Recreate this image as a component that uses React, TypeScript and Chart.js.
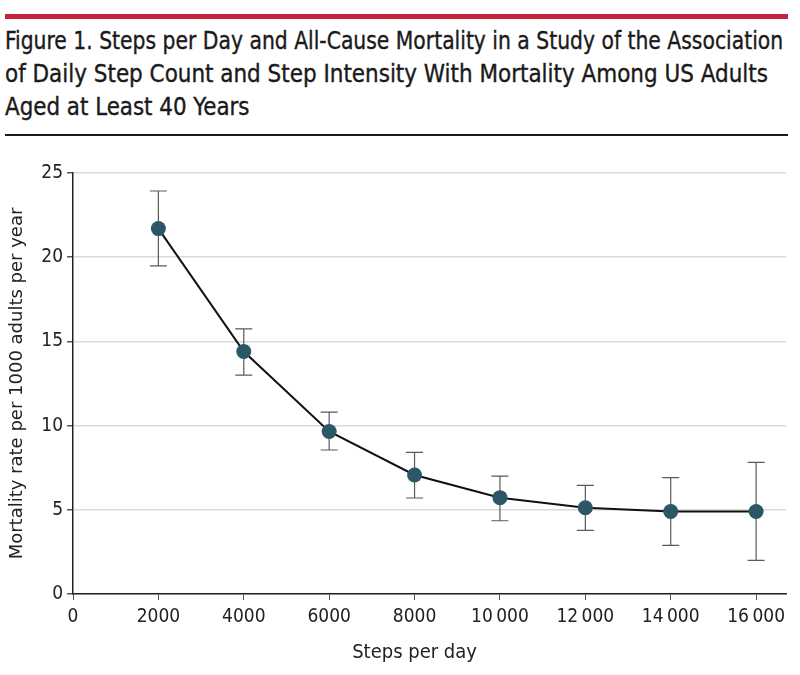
import React, { useEffect, useRef } from "react";
import { Chart, registerables } from "chart.js";

Chart.register(...registerables);

const steps = [2000, 4000, 6000, 8000, 10000, 12000, 14000, 16000];
const mortality = [21.7, 14.4, 9.65, 7.07, 5.72, 5.12, 4.9, 4.9];
const ciLower = [19.48, 13.0, 8.55, 5.7, 4.35, 3.78, 2.89, 2.0];
const ciUpper = [23.93, 15.74, 10.8, 8.41, 7.0, 6.45, 6.91, 7.82];
const xTicks = [0, 2000, 4000, 6000, 8000, 10000, 12000, 14000, 16000];
const yTicks = [0, 5, 10, 15, 20, 25];

const titleLines = [
  "Figure 1. Steps per Day and All-Cause Mortality in a Study of the Association",
  "of Daily Step Count and Step Intensity With Mortality Among US Adults",
  "Aged at Least 40 Years",
];
const titleLineWidths = [778, 763, 245];
const xTitle = "Steps per day";
const yTitle = "Mortality rate per 1000 adults per year";

const fmt = (v: number) => {
  if (v >= 10000) {
    const s = String(v);
    return s.slice(0, s.length - 3) + "\u2009" + s.slice(s.length - 3);
  }
  return String(v);
};

const errorBars = {
  id: "errorBars",
  beforeDatasetsDraw(chart: any) {
    const { ctx, scales } = chart;
    const xs = scales.x;
    const ys = scales.y;
    ctx.save();
    ctx.strokeStyle = "#5a5a5a";
    ctx.lineWidth = 1.2;
    steps.forEach((s, i) => {
      const px = xs.getPixelForValue(s);
      const top = ys.getPixelForValue(ciUpper[i]);
      const bot = ys.getPixelForValue(ciLower[i]);
      ctx.beginPath();
      ctx.moveTo(px, top);
      ctx.lineTo(px, bot);
      ctx.moveTo(px - 8.5, top);
      ctx.lineTo(px + 8.5, top);
      ctx.moveTo(px - 8.5, bot);
      ctx.lineTo(px + 8.5, bot);
      ctx.stroke();
    });
    ctx.restore();
  },
};

const xTitlePlugin = {
  id: "xTitlePlugin",
  afterDraw(chart: any) {
    const { ctx, scales } = chart;
    const xs = scales.x;
    const cx = (xs.getPixelForValue(xTicks[0]) + xs.getPixelForValue(xTicks[xTicks.length - 1])) / 2;
    ctx.save();
    ctx.fillStyle = "#222222";
    ctx.font = "20px 'DejaVu Sans Condensed'";
    ctx.textAlign = "center";
    ctx.textBaseline = "alphabetic";
    ctx.fillText(xTitle, cx, xs.bottom - 17);
    ctx.restore();
  },
};

export default function App() {
  const ref = useRef<HTMLCanvasElement | null>(null);
  const titleRef = useRef<HTMLDivElement | null>(null);
  useEffect(() => {
    document.body.style.margin = "0";
    if (titleRef.current) {
      const spans = Array.from(titleRef.current.querySelectorAll("span")) as HTMLSpanElement[];
      spans.forEach((sp, i) => {
        const s = titleLineWidths[i] / sp.offsetWidth;
        sp.style.transform = `scaleX(${s})`;
      });
    }
    if (!ref.current) return;
    const chart = new Chart(ref.current, {
      type: "line",
      data: {
        datasets: [
          {
            data: steps.map((s, i) => ({ x: s, y: mortality[i] })),
            borderColor: "#111111",
            borderWidth: 2,
            pointRadius: 7.5,
            pointBackgroundColor: "#2b5766",
            pointBorderColor: "#2b5766",
            pointBorderWidth: 0,
            tension: 0,
          },
        ],
      },
      options: {
        animation: false,
        responsive: false,
        maintainAspectRatio: false,
        layout: { padding: { left: 0, right: 14, top: 23, bottom: 0 } },
        plugins: { legend: { display: false }, tooltip: { enabled: false } },
        scales: {
          x: {
            type: "linear",
            min: 0,
            max: 16700,
            afterBuildTicks: (scale: any) => {
              scale.ticks = xTicks.map((v) => ({ value: v }));
            },
            afterFit: (scale: any) => {
              scale.height = 81;
            },
            ticks: {
              callback: (v: any) => fmt(Number(v)),
              color: "#222222",
              font: { family: "DejaVu Sans Condensed", size: 19 },
              padding: 6,
              maxRotation: 0,
              autoSkip: false,
            },
            grid: {
              drawOnChartArea: false,
              drawTicks: true,
              tickLength: 6,
              tickColor: "#555555",
            },
            border: { display: true, color: "#222222", width: 1.5 },
          },
          y: {
            min: 0,
            max: 25,
            afterBuildTicks: (scale: any) => {
              scale.ticks = yTicks.map((v) => ({ value: v }));
            },
            afterFit: (scale: any) => {
              scale.width = 73;
            },
            ticks: {
              color: "#222222",
              font: { family: "DejaVu Sans Condensed", size: 19 },
              padding: 4,
            },
            grid: {
              color: "#d9d9d9",
              lineWidth: 1.5,
              drawTicks: true,
              tickLength: 6,
              tickColor: "#555555",
            },
            border: { display: true, color: "#222222", width: 1.5 },
            title: {
              display: true,
              text: yTitle,
              color: "#222222",
              font: { family: "DejaVu Sans", size: 18 },
              padding: { top: 7, bottom: 4 },
            },
          },
        },
      },
      plugins: [errorBars, xTitlePlugin],
    });
    return () => chart.destroy();
  }, []);

  return (
    <div style={{ position: "relative", width: 800, height: 675, background: "#fff", overflow: "hidden" }}>
      <div style={{ position: "absolute", left: 5, top: 14, width: 783, height: 5, background: "#c8213a" }} />
      <div
        ref={titleRef}
        style={{
          position: "absolute",
          left: 5,
          top: 25,
          width: 1200,
          fontFamily: "DejaVu Sans Condensed",
          fontSize: 24,
          lineHeight: "33px",
          color: "#1a1a1a",
          WebkitTextStroke: "0.35px #1a1a1a",
        }}
      >
        {titleLines.map((l, i) => (
          <div key={i} style={{ whiteSpace: "nowrap", height: 33 }}>
            <span style={{ display: "inline-block", transformOrigin: "0 0" }}>{l}</span>
          </div>
        ))}
      </div>
      <div style={{ position: "absolute", left: 5, top: 134, width: 783, height: 2, background: "#1a1a1a" }} />
      <canvas ref={ref} width={800} height={525} style={{ position: "absolute", left: 0, top: 150, width: 800, height: 525 }} />
    </div>
  );
}
